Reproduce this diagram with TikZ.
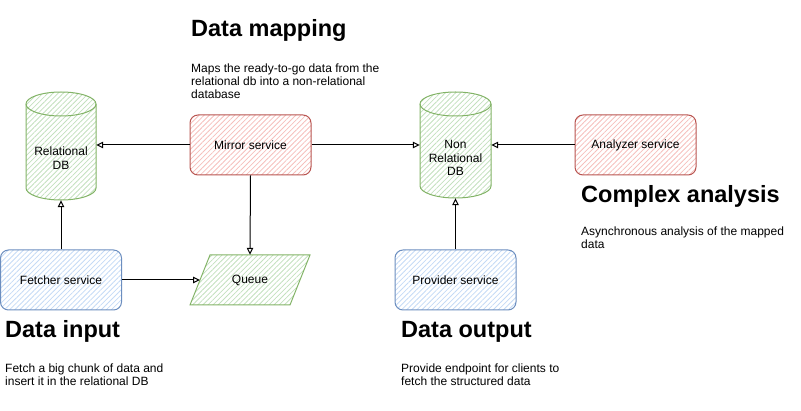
\documentclass[tikz,border=0pt]{standalone}
\usepackage{fontspec}
\setmainfont{Liberation Sans}
\usetikzlibrary{patterns.meta,arrows.meta}
\definecolor{gS}{HTML}{82B366}
\definecolor{gF}{HTML}{C3E0BE}
\definecolor{rS}{HTML}{B85450}
\definecolor{rF}{HTML}{F5BFBC}
\definecolor{bS}{HTML}{6C8EBF}
\definecolor{bF}{HTML}{C4DAF5}
\tikzset{
  hatch/.style={pattern={Lines[angle=45,distance=3.6pt,line width=0.8pt]}, pattern color=#1},
  box/.style={rounded corners=8pt, minimum width=121pt, minimum height=60pt, inner sep=0pt,
    font=\fontsize{12}{13.5}\selectfont, line width=1pt},
  redbox/.style={box, draw=rS, hatch=rF},
  bluebox/.style={box, draw=bS, hatch=bF},
  anchorbox/.style={inner sep=0pt, align=center, font=\fontsize{12}{13.5}\selectfont},
  arr/.style={-{Triangle[open,length=7pt,width=6.5pt]}, line width=1pt},
  titletext/.style={anchor=base west, inner sep=0pt, font=\fontsize{23.5}{28}\selectfont\bfseries},
  desctext/.style={anchor=north west, inner sep=0pt, align=left, font=\fontsize{12}{13}\selectfont},
}
\newcommand\mydbcyl[4]{% x-left, x-right, y-top, y-bottom
  \path[hatch=gF] (#1,#3+12) -- (#1,#4-12) arc[start angle=180,end angle=360,x radius={(#2-#1)/2*1pt},y radius=12pt]
     -- (#2,#3+12) arc[start angle=0,end angle=180,x radius={(#2-#1)/2*1pt},y radius=12pt] -- cycle;
  \draw[gS, line width=1pt] (#1,#3+12) -- (#1,#4-12) arc[start angle=180,end angle=360,x radius={(#2-#1)/2*1pt},y radius=12pt]
     -- (#2,#3+12) arc[start angle=0,end angle=180,x radius={(#2-#1)/2*1pt},y radius=12pt] -- cycle;
  \draw[gS, line width=1pt] (#1,#3+12) arc[start angle=180,end angle=360,x radius={(#2-#1)/2*1pt},y radius=12pt];
}
\begin{document}
\begin{tikzpicture}[x=1pt,y=-1pt]
\useasboundingbox (0,0) rectangle (801,411);

% databases
\mydbcyl{26}{96}{92}{200}
\node[anchorbox, minimum width=70pt, minimum height=108pt] (rdb) at (61,146) {};
\node[anchorbox] (rdbt) at (61,158) {Relational\\DB};
\mydbcyl{420}{491}{92}{198}
\node[anchorbox, minimum width=71pt, minimum height=106pt] (nrdb) at (455.5,145) {};
\node[anchorbox] (nrdbt) at (455.5,158) {Non\\Relational\\DB};

% services
\node[redbox] (mirror) at (250.5,145) {Mirror service};
\node[redbox] (analyzer) at (635.5,145) {Analyzer service};
\node[bluebox] (fetcher) at (61,280) {Fetcher service};
\node[bluebox] (provider) at (455.5,280) {Provider service};

% queue
\path[hatch=gF] (210,255) -- (310,255) -- (290,305) -- (190,305) -- cycle;
\draw[gS, line width=1pt] (210,255) -- (310,255) -- (290,305) -- (190,305) -- cycle;
\node[anchorbox, minimum width=100pt, minimum height=50pt] (queue) at (250,280) {Queue};
\coordinate (qin) at (200,280);

% connectors
\draw[arr] (mirror.west) -- (mirror.west -| rdb.east);
\draw[arr] (mirror.east) -- (mirror.east -| nrdb.west);
\draw[arr] (analyzer.west) -- (analyzer.west -| nrdb.east);
\draw[arr] (fetcher.north) -- (fetcher.north |- rdb.south);
\draw[arr] (provider.north) -- (provider.north |- nrdb.south);
\draw[arr] (mirror.south) -- (queue.north);
\draw[arr] (fetcher.east) -- (qin);

% texts
\node[titletext] (t1) at (191,37) {Data mapping};
\node[desctext] (d1) at (191,63.5) {Maps the ready-to-go data from the\\relational db into a non-relational\\database};
\node[titletext] (t2) at (581,203) {Complex analysis};
\node[desctext] (d2) at (581,226.5) {Asynchronous analysis of the mapped\\data};
\node[titletext] (t3) at (5,338) {Data input};
\node[desctext] (d3) at (5,363.5) {Fetch a big chunk of data and\\insert it in the relational DB};
\node[titletext] (t4) at (401,338) {Data output};
\node[desctext] (d4) at (401,363.5) {Provide endpoint for clients to\\fetch the structured data};
\end{tikzpicture}
\end{document}
